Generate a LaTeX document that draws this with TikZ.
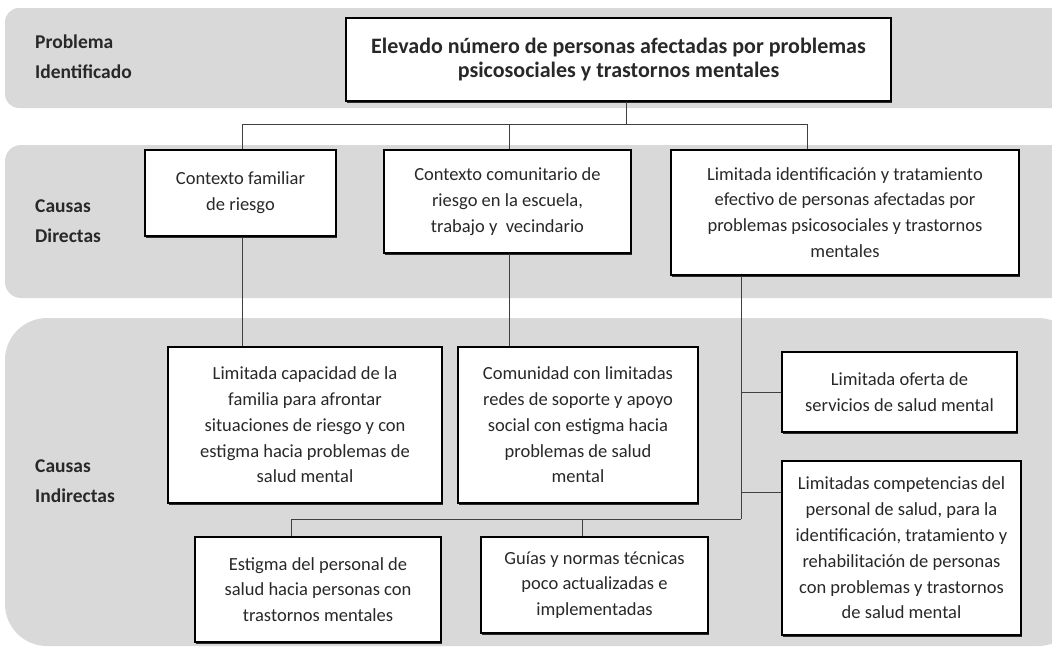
\documentclass[tikz,border=0pt]{standalone}
\usepackage{fontspec}
\setmainfont{Carlito}
\usetikzlibrary{shadows}
\definecolor{band}{RGB}{217,217,217}
\definecolor{txt}{RGB}{40,40,40}
\tikzset{
  bandbox/.style={fill=band, draw=none},
  cause/.style={draw=black, line width=1.2pt, fill=white, align=center, inner sep=0pt,
    text=txt, font=\fontsize{18.5}{25.8}\selectfont,
    drop shadow={shadow xshift=1pt, shadow yshift=-1.5pt, fill=black, opacity=0.8}},
  lbl/.style={anchor=west, align=left, inner sep=0pt, text=txt, font=\bfseries\fontsize{19.5}{30}\selectfont},
  conn/.style={draw=black!75, line width=0.6pt}
}
\begin{document}
\begin{tikzpicture}[x=1pt,y=-1pt]
\useasboundingbox (0,0) rectangle (1052,646);
\clip (0,0) rectangle (1052,646);
% bands
\fill[bandbox, rounded corners=14pt] (5,8) rectangle (1080,108);
\fill[bandbox, rounded corners=16pt] (5,145) rectangle (1080,298);
\fill[bandbox, rounded corners=42pt] (5,318) rectangle (1080,646);
% labels
\node[lbl] (l1) at (35,57) {Problema\\Identificado};
\node[lbl] (l2) at (35,221) {Causas\\Directas};
\node[lbl] (l3) at (35,481) {Causas\\Indirectas};
% nodes
\node[cause, minimum width=545pt, minimum height=83pt, font=\bfseries\fontsize{22}{23.5}\selectfont] (main) at (618.5,59.5)
  {Elevado número de personas afectadas por problemas\\psicosociales y trastornos mentales};
\node[cause, minimum width=191pt, minimum height=86pt] (A) at (240.5,193)
  {Contexto familiar\\de riesgo};
\node[cause, minimum width=247pt, minimum height=103pt] (B) at (507.5,201.5)
  {Contexto comunitario de\\riesgo en la escuela,\\trabajo y\ \ vecindario};
\node[cause, minimum width=348pt, minimum height=125pt] (C) at (845,212.5)
  {Limitada identificación y tratamiento\\efectivo de personas afectadas por\\problemas psicosociales y trastornos\\mentales};
\node[cause, minimum width=274pt, minimum height=156pt] (D) at (305,425)
  {Limitada capacidad de la\\familia para afrontar\\situaciones de riesgo y con\\estigma hacia problemas de\\salud mental};
\node[cause, minimum width=240pt, minimum height=156pt] (E) at (578,425)
  {Comunidad con limitadas\\redes de soporte y apoyo\\social con estigma hacia\\problemas de salud\\mental};
\node[cause, minimum width=235pt, minimum height=80pt] (F) at (899.5,392)
  {Limitada oferta de\\servicios de salud mental};
\node[cause, minimum width=239pt, minimum height=174pt] (G) at (901.5,548)
  {Limitadas competencias del\\personal de salud, para la\\identificación, tratamiento y\\rehabilitación de personas\\con problemas y trastornos\\de salud mental};
\node[cause, minimum width=246pt, minimum height=105pt] (H) at (318,589.5)
  {Estigma del personal de\\salud hacia personas con\\trastornos mentales};
\node[cause, minimum width=227pt, minimum height=96pt] (I) at (594.5,585)
  {Guías y normas técnicas\\poco actualizadas e\\implementadas};
% junction coordinates
\coordinate (jM) at (626,124);
\coordinate (jA) at (242,124);
\coordinate (jB) at (509,124);
\coordinate (jC) at (807,124);
\coordinate (kC) at (741,519);
\coordinate (kH) at (291,519);
\coordinate (kI) at (582,519);
% connectors
\draw[conn] (main.south -| jM) -- (jM);
\draw[conn] (jA) -- (jC);
\draw[conn] (jA) -- (A.north -| jA);
\draw[conn] (jB) -- (B.north -| jB);
\draw[conn] (jC) -- (C.north -| jC);
\draw[conn] (A.south -| jA) -- (D.north -| jA);
\draw[conn] (B.south -| jB) -- (E.north -| jB);
\draw[conn] (C.south -| kC) -- (kC);
\draw[conn] (F.west -| kC) -- (F.west);
\draw[conn] (G.west |- 0,492) -- (kC |- 0,492);
\draw[conn] (kH) -- (kC);
\draw[conn] (kH) -- (H.north -| kH);
\draw[conn] (kI) -- (I.north -| kI);
\end{tikzpicture}
\end{document}
